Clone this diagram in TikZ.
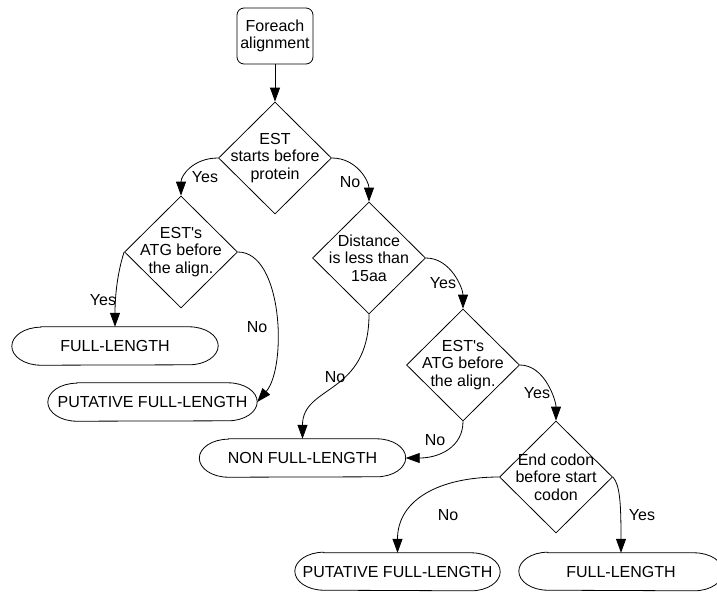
\documentclass[tikz,border=0pt]{standalone}
\usepackage{fontspec}
\setmainfont{Liberation Sans}[Ligatures=TeXOff]
\usetikzlibrary{arrows.meta,shapes.geometric}
\begin{document}
\begin{tikzpicture}[x=1pt,y=1pt,
  every node/.style={font=\fontsize{16}{17.5}\selectfont},
  line/.style={draw=black, line width=0.8pt},
  arr/.style={line, -{Triangle[length=14pt,width=10pt]}},
  dec/.style={draw, shape=diamond, minimum width=113pt, minimum height=112pt, inner sep=0pt, line width=0.8pt, fill=white},
  term/.style={minimum width=#1, minimum height=38pt, inner sep=0pt},
  startbox/.style={draw, rounded corners=7pt, minimum width=76pt, minimum height=56pt, align=center, inner sep=0pt, line width=0.8pt},
  lab/.style={inner sep=0pt},
]
\useasboundingbox[fill=white] (0,0) rectangle (717,-592);

% start
\node[startbox] (s) at (275,-36) {Foreach\\alignment};

% decisions
\node[dec, label={[align=center]center:EST\\starts before\\protein}] (d1) at (275,-158) {};
\node[dec, label={[align=center]center:EST's\\ATG before\\the align.}] (d2) at (181,-252) {};
\node[dec, label={[align=center]center:Distance\\is less than\\15aa}] (d3) at (369,-258) {};
\node[dec, label={[align=center]center:EST's\\ATG before\\the align.}] (d4) at (463,-365) {};
\node[dec, label={[align=center]center:End codon\\before start\\codon}] (d5) at (556,-477) {};

% terminals
\node[term=206pt] (fl) at (115,-346) {FULL-LENGTH};
\node[term=209pt] (pl) at (152.5,-402) {PUTATIVE FULL-LENGTH};
\node[term=206pt] (nf) at (302.5,-458) {NON FULL-LENGTH};
\node[term=205pt, minimum height=37pt] (pb) at (397.5,-571.5) {PUTATIVE FULL-LENGTH};
\node[term=204pt, minimum height=37pt] (fb) at (621,-571.5) {FULL-LENGTH};

\foreach \n in {fl,pl,nf,pb,fb}
  \draw[line] ([xshift=29pt]\n.north west) -- ([xshift=-29pt]\n.north east)
    arc[start angle=90,end angle=-90,x radius=29pt,y radius=19pt]
    -- ([xshift=29pt]\n.south west)
    arc[start angle=270,end angle=90,x radius=29pt,y radius=19pt] -- cycle;

% connectors
\draw[arr] (s.south) -- (d1.north);
\draw[arr] (d1.west) .. controls +(-25,0) and +(0,20) .. (d2.north);
\draw[arr] (d1.east) .. controls +(25,0) and +(0,20) .. (d3.north);
\draw[arr] (d2.west) .. controls +(-8,-25) and +(0,25) .. (fl.north);
\draw[arr] (d2.east) .. controls +(45,0) and +(30,35) .. (pl.east);
\draw[arr] (d3.south) .. controls +(0,-81) and +(0,54) .. (nf.north);
\draw[arr] (d3.east) .. controls +(25,0) and +(0,20) .. (d4.north);
\draw[arr] (d4.south) .. controls +(0,-26) and +(33,0) .. (nf.east);
\draw[arr] (d4.east) .. controls +(25,0) and +(0,20) .. (d5.north);
\draw[arr] (d5.west) .. controls +(-60,0) and +(0,53) .. (pb.north);
\draw[arr] (d5.east) .. controls +(7,-8) and +(0,50) .. (fb.north);

% labels
\node[lab] (l1) at (205,-177) {Yes};
\node[lab] (l2) at (350,-182) {No};
\node[lab] (l3) at (103,-300) {Yes};
\node[lab] (l4) at (257,-327) {No};
\node[lab] (l5) at (335,-377) {No};
\node[lab] (l6) at (443,-283) {Yes};
\node[lab] (l7) at (435,-440) {No};
\node[lab] (l8) at (537,-393) {Yes};
\node[lab] (l9) at (448,-515) {No};
\node[lab] (l10) at (642,-515) {Yes};
\end{tikzpicture}
\end{document}
